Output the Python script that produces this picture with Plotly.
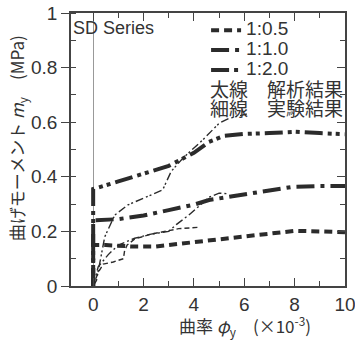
import plotly.graph_objects as go

# ---- data ----
ratios = ["1:0.5", "1:1.0", "1:2.0"]

ana_x_05 = [0, 0, 0.5, 1.5, 2.5, 3.5, 4.5, 5.5, 6.5, 7.5, 8.0, 9.0, 10.0]
ana_y_05 = [0, 0.15, 0.15, 0.145, 0.145, 0.155, 0.165, 0.175, 0.187, 0.197, 0.202, 0.2, 0.197]

ana_x_10 = [0, 0, 1.0, 2.0, 3.0, 4.0, 4.6, 5.9, 7.2, 7.9, 9.0, 10.0]
ana_y_10 = [0, 0.24, 0.245, 0.258, 0.278, 0.298, 0.315, 0.333, 0.354, 0.363, 0.366, 0.366]

ana_x_20 = [0, 0, 1.0, 2.0, 3.0, 4.0, 4.6, 5.2, 6.0, 7.0, 8.0, 9.0, 10.0]
ana_y_20 = [0, 0.355, 0.383, 0.413, 0.44, 0.488, 0.528, 0.55, 0.557, 0.56, 0.565, 0.56, 0.556]

exp_x_05 = [0, 0.2, 0.4, 0.8, 1.2, 1.25, 1.35, 1.65, 2.3, 2.9, 3.4, 4.2]
exp_y_05 = [0, 0.05, 0.08, 0.088, 0.1, 0.13, 0.15, 0.172, 0.19, 0.2, 0.21, 0.215]

exp_x_10 = [0, 0.2, 0.6, 1.0, 1.65, 2.3, 3.0, 3.3, 3.8, 4.3, 4.6, 5.0, 5.4]
exp_y_10 = [0, 0.07, 0.115, 0.15, 0.175, 0.19, 0.2, 0.225, 0.26, 0.3, 0.325, 0.34, 0.338]

exp_x_20 = [0, 0.13, 0.46, 0.86, 1.38, 2.3, 2.76, 3.1, 3.56, 4.35, 5.0, 5.4, 5.93, 6.1]
exp_y_20 = [0, 0.02, 0.18, 0.26, 0.297, 0.333, 0.352, 0.42, 0.468, 0.535, 0.596, 0.614, 0.626, 0.63]

x_ticks = [0, 2, 4, 6, 8, 10]
y_ticks = [0, 0.2, 0.4, 0.6, 0.8, 1]

ink = "#2b2b2b"
ana_dash = ["8px,5px", "18px,6px,4px,6px", "18px,5px,4px,4px,4px,5px"]
exp_dash = ["5px,3px", "8px,3px,2px,3px", "8px,3px,2px,2px,2px,3px"]

ana = [(ana_x_05, ana_y_05), (ana_x_10, ana_y_10), (ana_x_20, ana_y_20)]
exps = [(exp_x_05, exp_y_05), (exp_x_10, exp_y_10), (exp_x_20, exp_y_20)]

fig = go.Figure()
for i, (xs, ys) in enumerate(exps):
    fig.add_trace(go.Scatter(x=xs, y=ys, mode="lines", showlegend=False,
                             line=dict(color=ink, width=1.4, dash=exp_dash[i])))
for i, (xs, ys) in enumerate(ana):
    fig.add_trace(go.Scatter(x=xs, y=ys, mode="lines",
                             name="<span style='font-size:19px'>" + ratios[i] + "</span>",
                             line=dict(color=ink, width=4, dash=ana_dash[i])))
# invisible trace for right-side mirror axis
fig.add_trace(go.Scatter(x=[0], y=[0], yaxis="y2", mode="markers",
                         marker=dict(opacity=0), showlegend=False, hoverinfo="skip"))

tickfont = dict(family="Liberation Sans, Arial", size=19, color="#333")
fig.update_layout(
    width=355, height=340,
    margin=dict(l=71, r=10, t=13, b=54, autoexpand=False),
    paper_bgcolor="white", plot_bgcolor="white",
    showlegend=True,
    legend=dict(x=0.493, y=0.992, xanchor="left", yanchor="top",
                bgcolor="rgba(0,0,0,0)", font=dict(family="Liberation Sans, Arial", size=13, color="#333"),
                tracegroupgap=0, itemwidth=30),
    xaxis=dict(range=[-0.88, 10], tickvals=x_ticks, ticks="inside", ticklen=8,
               tickwidth=1.3, tickcolor="#444", automargin=False, ticklabeloverflow="allow",
               minor=dict(dtick=1, tick0=0, ticks="inside", ticklen=5, tickcolor="#444"),
               showline=True, linecolor="#444", linewidth=1.6, mirror="ticks",
               showgrid=False, zeroline=True, zerolinecolor="#999", zerolinewidth=1,
               tickfont=tickfont),
    yaxis=dict(range=[0, 1], tickvals=y_ticks, ticks="outside", ticklen=8,
               tickwidth=1.3, tickcolor="#444", automargin=False, ticklabeloverflow="allow",
               minor=dict(dtick=0.1, tick0=0, ticks="inside", ticklen=5, tickcolor="#444"),
               showline=True, linecolor="#444", linewidth=1.6, mirror=True,
               showgrid=False, zeroline=False, tickfont=tickfont),
    yaxis2=dict(range=[0, 1], overlaying="y", side="right", anchor="x", tickvals=y_ticks,
                ticks="inside", ticklen=8, tickwidth=1.3, tickcolor="#444", automargin=False,
                minor=dict(dtick=0.1, tick0=0, ticks="inside", ticklen=5, tickcolor="#444"),
                showticklabels=False, showline=True, linecolor="#444", linewidth=1.6,
                showgrid=False, zeroline=False),
)

cjk = "Noto Sans CJK JP"
fig.add_annotation(text="SD Series", xref="paper", yref="paper", x=0.0, y=0.945,
                   xanchor="left", yanchor="middle", showarrow=False,
                   font=dict(family="Liberation Sans, Arial", size=18, color="#333"))
for txt, xx, anc, yy in [("太線", 0.5, "left", 0.725), ("解析結果", 1.0, "right", 0.725),
                         ("細線", 0.5, "left", 0.655), ("実験結果", 1.0, "right", 0.655)]:
    fig.add_annotation(text=txt, xref="paper", yref="paper", x=xx, y=yy,
                       xanchor=anc, yanchor="middle", showarrow=False,
                       font=dict(family=cjk, size=19, color="#333"))
fig.add_annotation(text="曲げモーメント <i>m</i><sub>y</sub>　(MPa)", xref="paper", yref="paper",
                   x=-0.195, y=0.54, textangle=-90, xanchor="center", yanchor="middle",
                   showarrow=False, font=dict(family=cjk, size=17, color="#333"))
fig.add_annotation(text="曲率 <i>φ</i><sub>y</sub>　(×10<sup>-3</sup>)", xref="paper", yref="paper",
                   x=0.635, y=-0.148, xanchor="center", yanchor="middle",
                   showarrow=False, font=dict(family=cjk, size=17, color="#333"))

fig.write_html("out.html", config={"displayModeBar": False},
               post_script="document.body.style.margin='0px';document.body.style.overflow='hidden';")
